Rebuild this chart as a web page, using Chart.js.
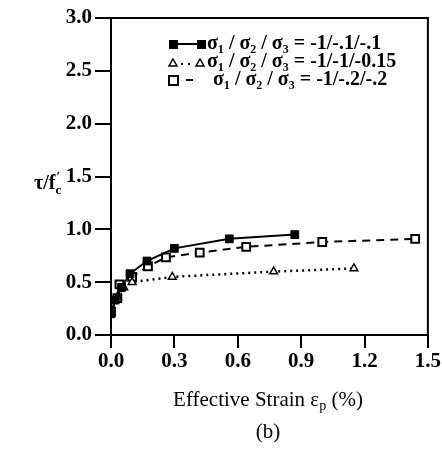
<!DOCTYPE html>
<html>
<head>
<meta charset="utf-8">
<script src="https://cdn.jsdelivr.net/npm/chart.js@4"></script>
<style>
  body { margin: 0; background: #fff; }
  #wrap { width: 442px; height: 455px; }
</style>
</head>
<body>
<div id="wrap"><canvas id="myChart" width="442" height="455"></canvas></div>
<script>
// valores (b)
const xTicks = [0.0, 0.3, 0.6, 0.9, 1.2, 1.5];
const yTicks = [0.0, 0.5, 1.0, 1.5, 2.0, 2.5, 3.0];

const strainA = [0.0, 0.02, 0.05, 0.09, 0.17, 0.30, 0.56, 0.87];
const tauA    = [0.20, 0.33, 0.45, 0.58, 0.70, 0.82, 0.91, 0.95];

const strainB = [0.0, 0.03, 0.06, 0.10, 0.29, 0.77, 1.15];
const tauB    = [0.20, 0.36, 0.45, 0.50, 0.55, 0.60, 0.63];

const strainC = [0.0, 0.03, 0.04, 0.10, 0.175, 0.26, 0.42, 0.64, 1.00, 1.44];
const tauC    = [0.22, 0.35, 0.48, 0.55, 0.65, 0.735, 0.78, 0.835, 0.88, 0.91];

const labels = [
  "σ₁ / σ₂ / σ₃ = -1/-.1/-.1",
  "σ₁ / σ₂ / σ₃ = -1/-1/-0.15",
  "σ₁ / σ₂ / σ₃ = -1/-.2/-.2"
];

const toPoints = (xs, ys) => xs.map((x, i) => ({ x: x, y: ys[i] }));

const serif = "'Liberation Serif', 'Times New Roman', serif";

// marco, leyenda y titulos de ejes
const extras = {
  id: 'extras',
  afterDraw(chart) {
    const c = chart.ctx;
    const a = chart.chartArea;
    c.save();
    c.strokeStyle = '#000';
    c.lineWidth = 2;
    c.strokeRect(a.left, a.top, a.right - a.left, a.bottom - a.top);

    // leyenda
    const rows = [44, 62, 80];
    c.font = 'bold 20px ' + serif;
    c.fillStyle = '#000';
    c.textBaseline = 'middle';
    c.fillText(labels[0], 207, rows[0]);
    c.fillText(labels[1], 207, rows[1]);
    c.fillText(labels[2], 213, rows[2]);
    // simbolos
    c.lineWidth = 2;
    c.setLineDash([]);
    c.beginPath(); c.moveTo(174, rows[0]); c.lineTo(200, rows[0]); c.stroke();
    c.fillRect(169, rows[0] - 4, 9, 9);
    c.fillRect(197, rows[0] - 4, 9, 9);
    const tri = (x, y) => {
      c.beginPath(); c.moveTo(x, y - 4); c.lineTo(x + 4, y + 3); c.lineTo(x - 4, y + 3); c.closePath(); c.stroke();
    };
    c.lineWidth = 1.5;
    tri(173, rows[1] + 1); tri(200, rows[1] + 1);
    c.fillRect(181, rows[1] + 1, 2, 2); c.fillRect(188, rows[1] + 1, 2, 2);
    c.lineWidth = 2;
    c.strokeRect(169, rows[2] - 4, 9, 9);
    c.beginPath(); c.moveTo(186, rows[2]); c.lineTo(193, rows[2]); c.stroke();

    // titulo eje y
    c.font = 'bold 20px ' + serif;
    c.textBaseline = 'alphabetic';
    c.fillText('τ/f', 34, 189);
    const w = c.measureText('τ/f').width;
    c.font = 'bold 13px ' + serif;
    c.fillText('′', 34 + w + 1, 180);
    c.fillText('c', 34 + w, 194);

    // titulo eje x
    c.font = '21px ' + serif;
    const t1 = 'Effective Strain ε';
    const t2 = ' (%)';
    const w1 = c.measureText(t1).width;
    const w2 = c.measureText(t2).width;
    c.font = '14px ' + serif;
    const wp = c.measureText('p').width;
    let x0 = 268 - (w1 + wp + w2) / 2;
    c.font = '21px ' + serif;
    c.fillText(t1, x0, 406);
    c.font = '14px ' + serif;
    c.fillText('p', x0 + w1, 410);
    c.font = '21px ' + serif;
    c.fillText(t2, x0 + w1 + wp, 406);
    c.textAlign = 'center';
    c.fillText('(b)', 268, 438);
    c.restore();
  }
};

const ctx = document.getElementById('myChart');
new Chart(ctx, {
  type: 'scatter',
  data: {
    datasets: [
      {
        label: labels[0],
        data: toPoints(strainA, tauA),
        showLine: true,
        borderColor: '#000',
        backgroundColor: '#000',
        borderWidth: 2,
        pointStyle: 'rect',
        pointRadius: 5.5,
        pointBorderWidth: 1
      },
      {
        label: labels[1],
        data: toPoints(strainB, tauB),
        showLine: true,
        borderColor: '#000',
        backgroundColor: '#fff',
        borderWidth: 2.5,
        borderDash: [2, 4],
        pointStyle: 'triangle',
        pointRadius: 4.5,
        pointBorderWidth: 1.5
      },
      {
        label: labels[2],
        data: toPoints(strainC, tauC),
        showLine: true,
        borderColor: '#000',
        backgroundColor: '#fff',
        borderWidth: 2,
        borderDash: [8, 6],
        pointStyle: 'rect',
        pointRadius: 5.5,
        pointBorderWidth: 2
      }
    ]
  },
  options: {
    responsive: false,
    animation: false,
    layout: { padding: { left: 0, right: 12, top: 18, bottom: 0 } },
    plugins: { legend: { display: false }, tooltip: { enabled: false } },
    scales: {
      x: {
        type: 'linear',
        min: 0, max: 1.5,
        afterBuildTicks: (s) => { s.ticks = xTicks.map(v => ({ value: v })); },
        afterFit: (s) => { s.height = 120; },
        grid: { drawOnChartArea: false, drawTicks: true, tickLength: 13, color: '#000', lineWidth: 2 },
        border: { display: true, color: '#000', width: 2 },
        ticks: {
          color: '#000', padding: 1,
          font: { family: serif, size: 21, weight: 'bold' },
          callback: (v) => v.toFixed(1)
        }
      },
      y: {
        type: 'linear',
        min: 0, max: 3,
        afterBuildTicks: (s) => { s.ticks = yTicks.map(v => ({ value: v })); },
        afterFit: (s) => { s.width = 111; },
        grid: { drawOnChartArea: false, drawTicks: true, tickLength: 16, color: '#000', lineWidth: 2 },
        border: { display: true, color: '#000', width: 2 },
        ticks: {
          color: '#000', padding: 3,
          font: { family: serif, size: 21, weight: 'bold' },
          callback: (v) => v.toFixed(1)
        }
      }
    }
  },
  plugins: [extras]
});
</script>
</body>
</html>
